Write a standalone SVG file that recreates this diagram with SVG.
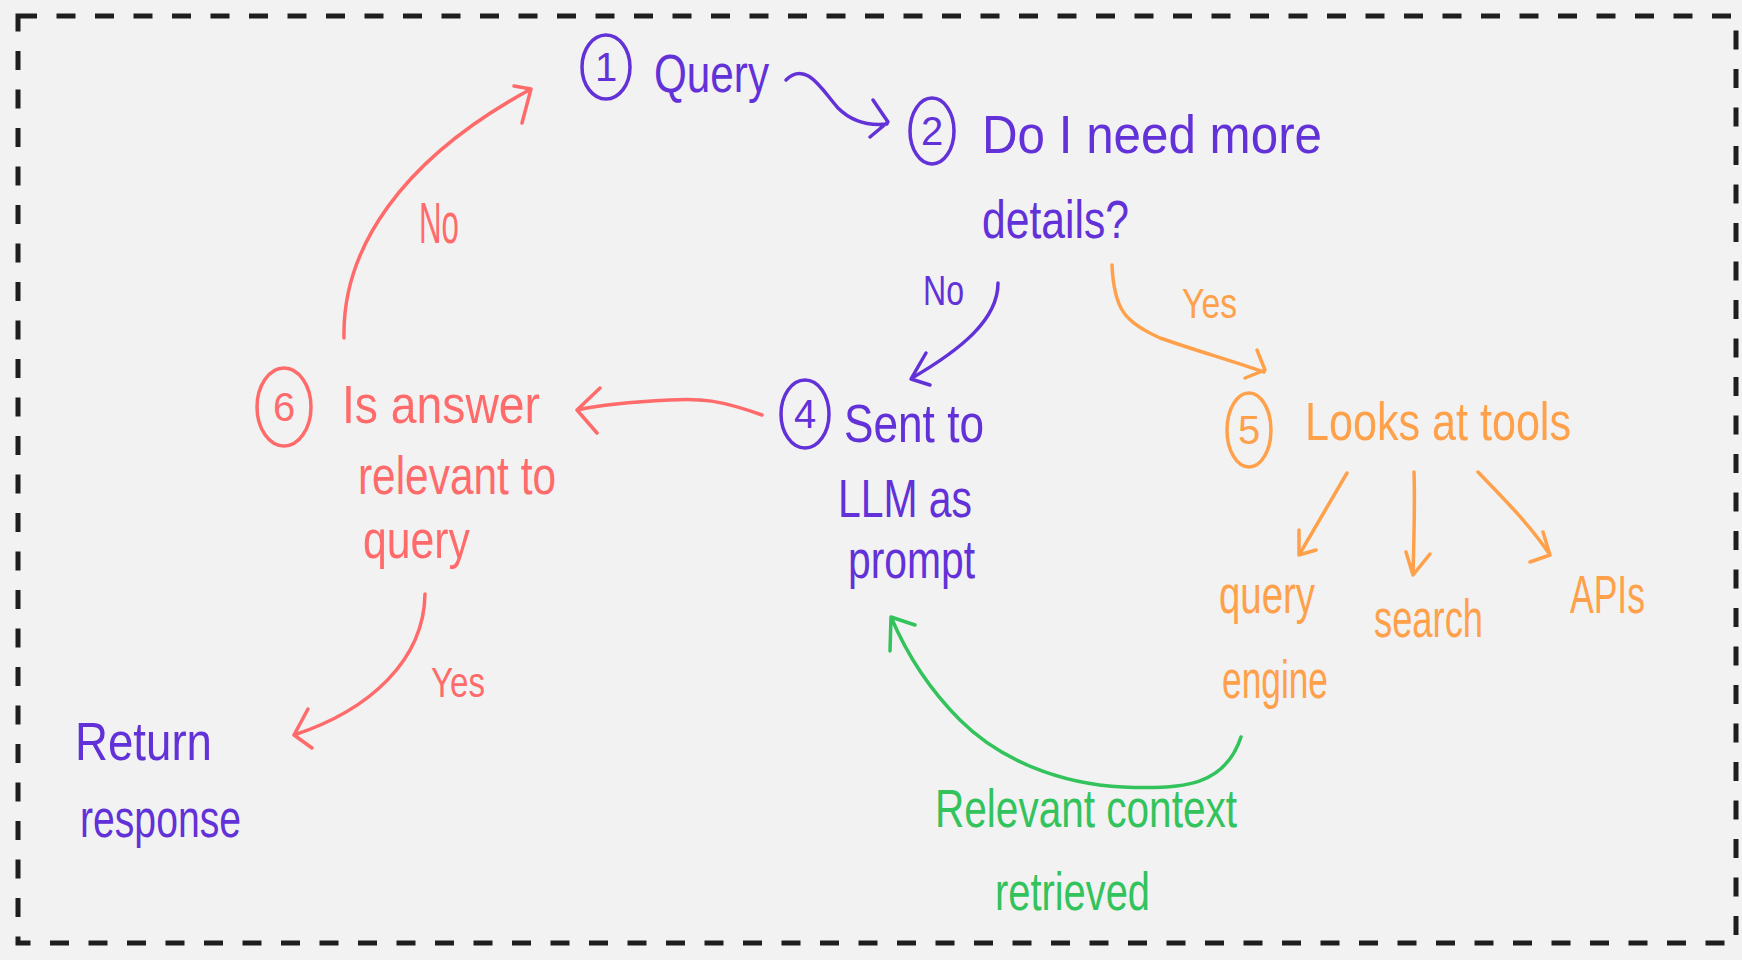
<svg xmlns="http://www.w3.org/2000/svg" width="1742" height="960" viewBox="0 0 1742 960">
<style>
text{font-family:"Liberation Sans","DejaVu Sans",sans-serif;}
.t{font-size:54px;}
.lab{font-size:42px;}
.big{font-size:58px;}
.num{font-size:40px;text-anchor:middle;}
.pu{fill:#6231d8;}
.re{fill:#ff6b6b;}
.or{fill:#ffa04a;}
.gr{fill:#33c35c;}
.cpu{fill:none;stroke:#6231d8;stroke-width:3.5;}
.cre{fill:none;stroke:#ff6b6b;stroke-width:3.5;}
.cor{fill:none;stroke:#ffa04a;stroke-width:3.5;}
.c{stroke-linecap:round;stroke-linejoin:round;fill:none;stroke-width:3.5;}
</style>
<rect width="1742" height="960" fill="#f2f2f2"/>
<rect id="frame" x="18" y="16" width="1718" height="927" fill="none" stroke="#1e1e1e" stroke-width="5" stroke-dasharray="19 19.5"/>

<g id="connectors" class="c">
  <path d="M786,80 C806,60 822,90 838,108 C852,122 868,126 887,124 M873,100 L888,122 L870,137" stroke="#6231d8"/>
  <path d="M998,283 C998,320 960,350 912,378 M926,353 L911,379 L930,385" stroke="#6231d8"/>
  <path d="M1112,265 C1114,310 1125,322 1160,338 C1200,352 1230,360 1264,372 M1257,350 L1265,370 L1245,378" stroke="#ffa04a"/>
  <path d="M762,415 C720,400 700,398 670,400 C630,402 600,405 577,410 M600,388 L577,410 L597,433" stroke="#ff6b6b"/>
  <path d="M344,338 C342,250 400,160 531,89 M514,86 L531,89 L522,123" stroke="#ff6b6b"/>
  <path d="M425,594 C424,660 370,710 294,735 M308,709 L294,735 L312,748" stroke="#ff6b6b"/>
  <path d="M1347,473 L1299,555 M1299,530 L1299,555 L1316,550" stroke="#ffa04a"/>
  <path d="M1414,472 C1415,500 1414,540 1413,575 M1406,552 L1413,575 L1430,554" stroke="#ffa04a"/>
  <path d="M1478,472 C1505,500 1530,525 1550,555 M1543,532 L1550,555 L1530,562" stroke="#ffa04a"/>
  <path d="M1241,737 C1225,785 1185,790 1123,787 C1060,784 1000,760 960,720 C925,685 905,650 891,617 M915,625 L891,617 L890,651" stroke="#33c35c"/>
  <text class="big re" x="419" y="243" textLength="40" lengthAdjust="spacingAndGlyphs">No</text>
  <text class="lab pu" x="923" y="305" textLength="41" lengthAdjust="spacingAndGlyphs">No</text>
  <text class="lab or" x="1182" y="318" textLength="55" lengthAdjust="spacingAndGlyphs">Yes</text>
  <text class="lab re" x="431" y="697" textLength="54" lengthAdjust="spacingAndGlyphs">Yes</text>
</g>

<g id="n1">
  <ellipse class="cpu" cx="606" cy="67" rx="24" ry="32"/>
  <text class="num pu" x="606" y="81">1</text>
  <text class="t pu" x="654" y="92" textLength="115" lengthAdjust="spacingAndGlyphs">Query</text>
</g>
<g id="n2">
  <ellipse class="cpu" cx="932" cy="131" rx="22" ry="33"/>
  <text class="num pu" x="932" y="145">2</text>
  <text class="t pu" x="982" y="153" textLength="340" lengthAdjust="spacingAndGlyphs">Do I need more</text>
  <text class="t pu" x="982" y="238" textLength="147" lengthAdjust="spacingAndGlyphs">details?</text>
</g>
<g id="n4">
  <ellipse class="cpu" cx="805" cy="414" rx="24" ry="34"/>
  <text class="num pu" x="805" y="428">4</text>
  <text class="t pu" x="844" y="442" textLength="140" lengthAdjust="spacingAndGlyphs">Sent to</text>
  <text class="t pu" x="838" y="517" textLength="134" lengthAdjust="spacingAndGlyphs">LLM as</text>
  <text class="t pu" x="848" y="578" textLength="127" lengthAdjust="spacingAndGlyphs">prompt</text>
</g>
<g id="n5">
  <ellipse class="cor" cx="1249" cy="430" rx="22" ry="37"/>
  <text class="num or" x="1249" y="444">5</text>
  <text class="t or" x="1305" y="440" textLength="266" lengthAdjust="spacingAndGlyphs">Looks at tools</text>
</g>
<g id="n6">
  <ellipse class="cre" cx="284" cy="407" rx="27" ry="39"/>
  <text class="num re" x="284" y="421">6</text>
  <text class="t re" x="342" y="423" textLength="198" lengthAdjust="spacingAndGlyphs">Is answer</text>
  <text class="t re" x="358" y="494" textLength="198" lengthAdjust="spacingAndGlyphs">relevant to</text>
  <text class="t re" x="363" y="558" textLength="107" lengthAdjust="spacingAndGlyphs">query</text>
</g>
<g id="return">
  <text class="t pu" x="75" y="760" textLength="137" lengthAdjust="spacingAndGlyphs">Return</text>
  <text class="t pu" x="80" y="837" textLength="161" lengthAdjust="spacingAndGlyphs">response</text>
</g>
<g id="queryengine">
  <text class="t or" x="1219" y="613" textLength="96" lengthAdjust="spacingAndGlyphs">query</text>
  <text class="t or" x="1222" y="698" textLength="106" lengthAdjust="spacingAndGlyphs">engine</text>
</g>
<g id="search">
  <text class="t or" x="1374" y="637" textLength="109" lengthAdjust="spacingAndGlyphs">search</text>
</g>
<g id="apis">
  <text class="t or" x="1570" y="613" textLength="75" lengthAdjust="spacingAndGlyphs">APIs</text>
</g>
<g id="context">
  <text class="t gr" x="935" y="827" textLength="302" lengthAdjust="spacingAndGlyphs">Relevant context</text>
  <text class="t gr" x="995" y="910" textLength="155" lengthAdjust="spacingAndGlyphs">retrieved</text>
</g>
</svg>
